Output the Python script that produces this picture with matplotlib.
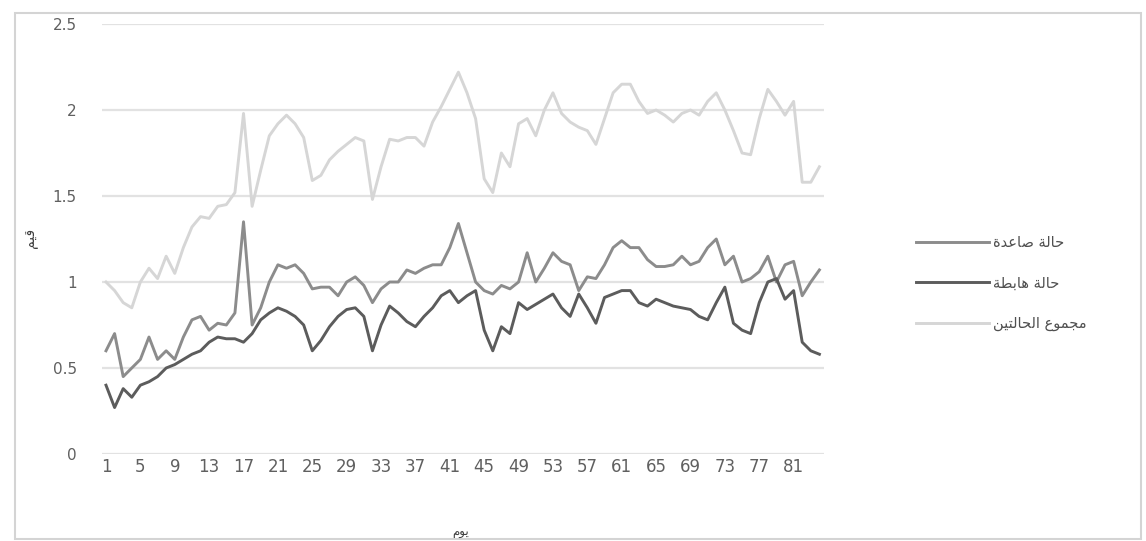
"""Daily values for the two states and their sum, Excel-style grey line chart."""
import numpy as np
import matplotlib
matplotlib.use("Agg")
import matplotlib.pyplot as plt
from matplotlib.patches import Rectangle

# Arabic labels written in presentation forms, visual (left-to-right) order
RISING = "\uFE93\uFEAA\uFECB\uFE8E\uFEBB \uFE94\uFEDF\uFE8E\uFEA3"        # حالة صاعدة
FALLING = "\uFE94\uFEC4\uFE91\uFE8E\uFEEB \uFE94\uFEDF\uFE8E\uFEA3"       # حالة هابطة
TOTAL = ("\uFEE6\uFEF4\uFE98\uFEDF\uFE8E\uFEA4\uFEDF\uFE8D "
         "\uFEC9\uFEEE\uFEE4\uFEA0\uFEE3")                                   # مجموع الحالتين
XLABEL = "\uFEE1\uFEEE\uFEF3"                                                # يوم
YLABEL = "\uFEE2\uFEF4\uFED7"                                                # قيم

days = np.arange(1, 85)
tick_days = list(range(1, 82, 4))

rising = [0.6, 0.7, 0.45, 0.5, 0.55, 0.68, 0.55, 0.6, 0.55, 0.68,
          0.78, 0.8, 0.72, 0.76, 0.75, 0.82, 1.35, 0.75, 0.85, 1.0, 1.1,
          1.08, 1.1, 1.05, 0.96, 0.97, 0.97, 0.92, 1.0, 1.03,
          0.98, 0.88, 0.96, 1.0, 1.0, 1.07, 1.05, 1.08, 1.1, 1.1,
          1.2, 1.34, 1.17, 1.0,
          0.95, 0.93, 0.98, 0.96, 1.0, 1.17,
          1.0, 1.08, 1.17, 1.12, 1.1, 0.95, 1.03, 1.02, 1.1, 1.2,
          1.24, 1.2, 1.2, 1.13, 1.09, 1.09,
          1.1, 1.15, 1.1, 1.12, 1.2, 1.25, 1.1, 1.15, 1.0, 1.02,
          1.06, 1.15, 1.0, 1.1, 1.12, 0.92, 1.0, 1.07]

falling = [0.4, 0.27, 0.38, 0.33, 0.4, 0.42, 0.45, 0.5, 0.52, 0.55,
           0.58, 0.6, 0.65, 0.68, 0.67, 0.67, 0.65, 0.7, 0.78, 0.82, 0.85,
           0.83, 0.8, 0.75, 0.6, 0.66, 0.74, 0.8, 0.84, 0.85,
           0.8, 0.6, 0.75, 0.86, 0.82, 0.77, 0.74, 0.8, 0.85, 0.92,
           0.95, 0.88, 0.92, 0.95,
           0.72, 0.6, 0.74, 0.7, 0.88, 0.84,
           0.87, 0.9, 0.93, 0.85, 0.8, 0.93, 0.85, 0.76, 0.91, 0.93,
           0.95, 0.95, 0.88, 0.86, 0.9, 0.88,
           0.86, 0.85, 0.84, 0.8, 0.78, 0.88, 0.97, 0.76, 0.72, 0.7,
           0.88, 1.0, 1.02, 0.9, 0.95, 0.65, 0.6, 0.58]

total = [1.0, 0.95, 0.88, 0.85, 1.0, 1.08, 1.02, 1.15, 1.05, 1.2,
         1.32, 1.38, 1.37, 1.44, 1.45, 1.52, 1.98, 1.44, 1.65, 1.85, 1.92,
         1.97, 1.92, 1.84, 1.59, 1.62, 1.71, 1.76, 1.8, 1.84,
         1.82, 1.48, 1.67, 1.83, 1.82, 1.84, 1.84, 1.79, 1.93, 2.02,
         2.12, 2.22, 2.1, 1.95,
         1.6, 1.52, 1.75, 1.67, 1.92, 1.95,
         1.85, 2.0, 2.1, 1.98, 1.93, 1.9, 1.88, 1.8, 1.95, 2.1,
         2.15, 2.15, 2.05, 1.98, 2.0, 1.97,
         1.93, 1.98, 2.0, 1.97, 2.05, 2.1, 2.0, 1.88, 1.75, 1.74,
         1.95, 2.12, 2.05, 1.97, 2.05, 1.58, 1.58, 1.67]

W, H = 1146, 541
fig = plt.figure(figsize=(W / 100, H / 100), dpi=100)
fig.patch.set_facecolor("white")

# chart-area frame
fig.patches.append(Rectangle((15 / W, 1 - 539 / H), 1126 / W, 526 / H,
                             transform=fig.transFigure, fill=False,
                             ec="#d4d4d4", lw=1.5, zorder=0))

ax = fig.add_axes([101.7 / W, 1 - 454 / H, 722 / W, 430 / H])
ax.set_xlim(0.5, 84.5)
ax.set_ylim(0, 2.5)
ax.set_yticks([0, 0.5, 1, 1.5, 2, 2.5])
ax.set_yticklabels(["0", "0.5", "1", "1.5", "2", "2.5"])
ax.set_xticks(tick_days)
ax.set_xticklabels([str(d) for d in tick_days])
ax.grid(axis="y", color="#e2e2e2", lw=1.6)
ax.set_axisbelow(True)
for s in ax.spines.values():
    s.set_visible(False)
ax.tick_params(length=0, labelcolor="#606060")
ax.tick_params(axis="y", pad=18, labelsize=11)
ax.tick_params(axis="x", pad=3, labelsize=12)

l1, = ax.plot(days, rising, color="#8c8c8c", lw=2.1)
l2, = ax.plot(days, falling, color="#5c5c5c", lw=2.1)
l3, = ax.plot(days, total, color="#d6d6d6", lw=2.1)

fig.legend([l1, l2, l3], [RISING, FALLING, TOTAL], loc="center left",
           bbox_to_anchor=(903 / W, 1 - 283 / H), frameon=False,
           prop={"family": "DejaVu Sans", "size": 10.5}, labelcolor="#505050",
           handlelength=5.0, labelspacing=1.75, handletextpad=0.3)

fig.text(30 / W, 1 - 238 / H, YLABEL, rotation=90, ha="center", va="center",
         fontsize=10, color="#404040", family="DejaVu Sans")
fig.text(461 / W, 1 - 532 / H, XLABEL, ha="center", va="center",
         fontsize=8.5, color="#404040", family="DejaVu Sans")

fig.savefig("out.png", dpi=100, facecolor="white")
